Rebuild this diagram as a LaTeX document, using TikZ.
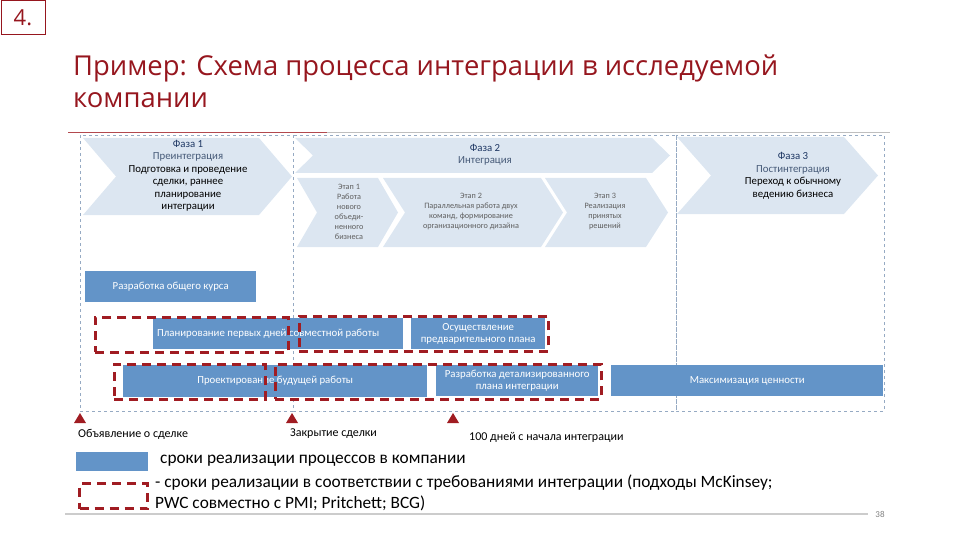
\documentclass[tikz,border=0pt]{standalone}
\usepackage{fontspec}
\setmainfont{Carlito}
\newfontfamily\titlefont{Open Sans}
\usetikzlibrary{positioning,calc}

\definecolor{dkred}{RGB}{160,28,34}
\definecolor{ttlred}{RGB}{150,22,30}
\definecolor{barblue}{RGB}{99,148,200}
\definecolor{chevfill}{RGB}{220,230,241}
\definecolor{framegray}{RGB}{150,170,195}
\definecolor{navytxt}{RGB}{31,56,100}
\definecolor{bluetxt}{RGB}{70,90,120}
\definecolor{stagegray}{RGB}{95,95,95}

\newcommand{\chevshape}[5]{\fill[chevfill] (#1,#3) -- ({#2-#5},#3) -- (#2,{(#3+#4)/2}) -- ({#2-#5},#4) -- (#1,#4) -- ({#1+#5},{(#3+#4)/2}) -- cycle;}

\begin{document}
\begin{tikzpicture}[x=1pt, y=-1pt,
    procbar/.style={fill=barblue, text=white, align=center, anchor=north west, inner sep=0pt, font=\fontsize{10.8}{12}\selectfont},
    redbox/.style={draw=dkred, line width=2.6pt, dash pattern=on 9pt off 6pt, anchor=north west, inner sep=0pt},
    phaseframe/.style={draw=framegray, line width=0.8pt, dash pattern=on 3pt off 3pt},
    phasetxt/.style={align=center, font=\fontsize{10.8}{12.5}\selectfont},
    stagetxt/.style={align=center, text=stagegray, font=\fontsize{8.2}{10}\selectfont},
    eventtxt/.style={anchor=west, inner sep=0pt, font=\fontsize{12}{13}\selectfont},
    keytxt/.style={anchor=west, inner sep=0pt, font=\fontsize{17.3}{20}\selectfont},
    milestone/.pic={\fill[dkred] (-6,5) -- (6,5) -- (0,-5) -- cycle;}]
    \useasboundingbox (0,0) rectangle (960,540);

    \node[draw=ttlred, line width=0.8pt, minimum width=44pt, minimum height=34pt, anchor=north west, inner sep=0pt, text=ttlred, font=\titlefont\fontsize{22}{26}\selectfont] (num) at (0.5,0.5) {4.};
    \node[anchor=base west, inner sep=0pt, text=ttlred, font=\titlefont\fontsize{27.4}{35}\selectfont] (title1) at (73,76) {Пример: Схема процесса интеграции в исследуемой};
    \node[anchor=base west, inner sep=0pt, text=ttlred, font=\titlefont\fontsize{27.4}{35}\selectfont] (title2) at (73,108) {компании};

    \draw[gray!50, line width=0.8pt] (68,132) -- (890,132);
    \draw[dkred!80, line width=0.8pt] (68,132) -- (327,132);

    \draw[phaseframe] (80,135) rectangle (293,411);
    \draw[phaseframe] (293,135) rectangle (676,411);
    \draw[phaseframe] (676,135) rectangle (884,411);

    \chevshape{83}{292}{138}{215}{33}
    \chevshape{295}{670}{138}{173}{18}
    \chevshape{297}{398}{178}{247}{20}
    \chevshape{383}{563}{178}{247}{22}
    \chevshape{545}{668}{178}{247}{22}
    \chevshape{677}{878}{137}{214}{34}

    \node[phasetxt] (ph1) at (188,176) {{\color{navytxt}Фаза 1}\\{\color{bluetxt}Преинтеграция}\\Подготовка и проведение\\сделки, раннее\\планирование\\интеграции};
    \node[phasetxt] (ph2) at (485,155) {{\color{navytxt}Фаза 2}\\{\color{bluetxt}Интеграция}};
    \node[phasetxt] (ph3) at (793,176) {{\color{navytxt}Фаза 3}\\{\color{bluetxt}Постинтеграция}\\Переход к обычному\\ведению бизнеса};
    \node[stagetxt] (st1) at (349,212) {Этап 1\\Работа\\нового\\объеди-\\ненного\\бизнеса};
    \node[stagetxt] (st2) at (471,212) {Этап 2\\Параллельная работа двух\\команд, формирование\\организационного дизайна};
    \node[stagetxt] (st3) at (605,211) {Этап 3\\Реализация\\принятых\\решений};

    \node[procbar, minimum width=171pt, minimum height=31pt] (kurs) at (85,271) {Разработка общего курса};
    \node[procbar, minimum width=250pt, minimum height=31pt] (plan) at (153,318) {Планирование первых дней совместной работы\hspace{20pt}};
    \node[procbar, minimum width=134pt, minimum height=31pt] (prelim) at (411,318) {Осуществление\\предварительного плана};
    \node[procbar, minimum width=304pt, minimum height=32pt] (design) at (123,365) {Проектирование будущей работы};
    \node[procbar, minimum width=162pt, minimum height=31pt] (detail) at (436,365) {Разработка детализированного\\плана интеграции};
    \node[procbar, minimum width=272pt, minimum height=31pt] (value) at (611,365) {Максимизация ценности};

    \node[redbox, minimum width=193pt, minimum height=35pt] (req1) at (94,316) {};
    \node[redbox, minimum width=249pt, minimum height=35pt] (req2) at (298,315) {};
    \node[redbox, minimum width=151pt, minimum height=35pt] (req3) at (113,363) {};
    \node[redbox, minimum width=326pt, minimum height=35pt] (req4) at (274,363) {};

    \coordinate (announce) at (80,418);
    \coordinate (closing) at (292,418);
    \coordinate (day100) at (453,418);
    \pic at (announce) {milestone};
    \pic at (closing) {milestone};
    \pic at (day100) {milestone};
    \node[eventtxt] (announcetxt) at (78,434) {Объявление о сделке};
    \node[eventtxt] (closingtxt) at (290,434) {Закрытие сделки};
    \node[eventtxt] (day100txt) at (469,437) {100 дней с начала интеграции};

    \node[fill=barblue, minimum width=72pt, minimum height=19pt, anchor=north west, inner sep=0pt] (keybar) at (76,452) {};
    \node[keytxt] (keybartxt) at (160,461) {сроки реализации процессов в компании};
    \node[redbox, line width=3pt, minimum width=68pt, minimum height=25pt] (keyred) at (78,482) {};
    \node[keytxt] (keyredtxt1) at (155,483) {- сроки реализации в соответствии с требованиями интеграции (подходы McKinsey;};
    \node[keytxt] (keyredtxt2) at (155,503) {PWC совместно с PMI; Pritchett; BCG)};

    \draw[gray!40, line width=1.5pt] (65,514) -- (868,514);
    \node[text=gray, font=\fontsize{9}{10}\selectfont, inner sep=0pt] (page) at (880,514) {38};
\end{tikzpicture}
\end{document}
